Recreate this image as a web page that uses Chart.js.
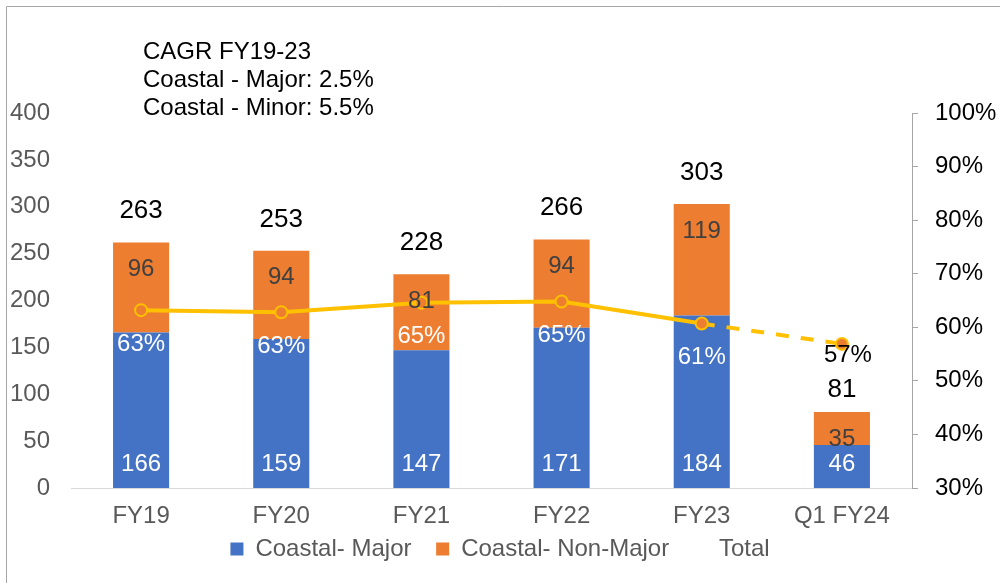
<!DOCTYPE html>
<html>
<head>
<meta charset="utf-8">
<script src="https://cdn.jsdelivr.net/npm/chart.js@4.4.1/dist/chart.umd.min.js"></script>
<style>
    html, body { margin: 0; padding: 0; background: #ffffff; }
    #wrap { position: relative; width: 1000px; height: 583px; }
</style>
</head>
<body>
<div id="wrap"><canvas id="cargoChart" width="1000" height="583"></canvas></div>
<script>
// Chart data
const categories = ['FY19', 'FY20', 'FY21', 'FY22', 'FY23', 'Q1 FY24'];
const majorValues = [166, 159, 147, 171, 184, 46];
const nonMajorValues = [96, 94, 81, 94, 119, 35];
const totalValues = [263, 253, 228, 266, 303, 81];
const majorShare = [63.2, 62.8, 64.6, 64.8, 60.7, 56.9];
const notes = ['CAGR FY19-23', 'Coastal - Major: 2.5%', 'Coastal - Minor: 5.5%'];

const FONT = 'Liberation Sans, Arial, sans-serif';
const BLUE = '#4472C4';
const ORANGE = '#ED7D31';
const GOLD = '#FFC000';

/**
 * Frame, the CAGR note and all the data labels
 */
const labelPlugin = {
    id: 'labelPlugin',
    beforeDraw(chart) {
        const ctx = chart.ctx;
        ctx.save();
        ctx.strokeStyle = '#a6a6a6';
        ctx.lineWidth = 1;
        ctx.beginPath();
        ctx.moveTo(6.5, chart.height);
        ctx.lineTo(6.5, 6.5);
        ctx.lineTo(chart.width, 6.5);
        ctx.stroke();
        ctx.restore();
    },
    afterDatasetsDraw(chart) {
        const ctx = chart.ctx;
        ctx.save();
        ctx.textAlign = 'center';
        ctx.textBaseline = 'middle';

        // Major values near the bar base
        ctx.font = '24px ' + FONT;
        ctx.fillStyle = '#ffffff';
        chart.getDatasetMeta(0).data.forEach((bar, i) => {
            ctx.fillText(String(majorValues[i]), bar.x, bar.base - 24);
        });

        // Non-major values near the bar top
        ctx.fillStyle = '#404040';
        chart.getDatasetMeta(1).data.forEach((bar, i) => {
            ctx.fillText(String(nonMajorValues[i]), bar.x, bar.y + 27);
        });

        // Totals above the stacks
        ctx.font = '26px ' + FONT;
        ctx.fillStyle = '#000000';
        const totalLift = [31, 31, 31, 31, 31, 22];
        chart.getDatasetMeta(2).data.forEach((pt, i) => {
            ctx.fillText(String(totalValues[i]), pt.x, pt.y - totalLift[i]);
        });

        // Share labels under the line points
        ctx.font = '24px ' + FONT;
        chart.getDatasetMeta(3).data.forEach((pt, i) => {
            const last = i === majorShare.length - 1;
            ctx.fillStyle = last ? '#000000' : '#ffffff';
            ctx.fillText(Math.round(majorShare[i]) + '%', pt.x + (last ? 6 : 0), pt.y + (last ? 11 : 34));
        });

        // CAGR note
        ctx.textAlign = 'left';
        ctx.textBaseline = 'alphabetic';
        ctx.fillStyle = '#000000';
        notes.forEach((line, i) => {
            ctx.fillText(line, 143, 59 + i * 28);
        });
        ctx.restore();
    }
};

const ctx = document.getElementById('cargoChart').getContext('2d');

new Chart(ctx, {
    type: 'bar',
    data: {
        labels: categories,
        datasets: [
            {
                label: 'Coastal- Major',
                data: majorValues,
                backgroundColor: BLUE,
                borderWidth: 0,
                yAxisID: 'y',
                order: 3,
                categoryPercentage: 1,
                barPercentage: 0.4
            },
            {
                label: 'Coastal- Non-Major',
                data: nonMajorValues,
                backgroundColor: ORANGE,
                borderWidth: 0,
                yAxisID: 'y',
                order: 3,
                categoryPercentage: 1,
                barPercentage: 0.4
            },
            {
                type: 'line',
                label: 'Total',
                data: totalValues,
                showLine: false,
                pointRadius: 0,
                borderColor: 'rgba(0,0,0,0)',
                backgroundColor: 'rgba(0,0,0,0)',
                borderWidth: 0,
                yAxisID: 'y',
                order: 3
            },
            {
                type: 'line',
                label: 'Share',
                data: majorShare,
                yAxisID: 'y1',
                borderColor: GOLD,
                borderWidth: 4,
                backgroundColor: ORANGE,
                pointBackgroundColor: ORANGE,
                pointBorderColor: GOLD,
                pointBorderWidth: 2,
                pointRadius: 6,
                tension: 0,
                order: 1,
                segment: {
                    borderDash: (c) => c.p1DataIndex === majorShare.length - 1 ? [13, 12] : undefined
                }
            }
        ]
    },
    options: {
        responsive: false,
        animation: false,
        layout: {
            padding: { top: 113, bottom: 12, left: 0, right: 0 }
        },
        scales: {
            x: {
                stacked: true,
                grid: { display: false, drawTicks: false },
                border: { display: true, color: '#d9d9d9', width: 1 },
                ticks: {
                    color: '#595959',
                    font: { family: FONT, size: 24 },
                    padding: 14,
                    maxRotation: 0
                },
                afterFit: (scale) => { scale.height = 43; }
            },
            y: {
                stacked: true,
                position: 'left',
                min: 0,
                max: 400,
                grid: { display: false, drawTicks: false },
                border: { display: false },
                ticks: {
                    stepSize: 50,
                    color: '#595959',
                    font: { family: FONT, size: 24 },
                    padding: 21
                },
                afterFit: (scale) => { scale.width = 71; }
            },
            y1: {
                position: 'right',
                min: 30,
                max: 100,
                grid: {
                    display: true,
                    drawOnChartArea: false,
                    drawTicks: true,
                    tickLength: 6,
                    color: '#a6a6a6'
                },
                border: { display: true, color: '#a6a6a6', width: 1 },
                ticks: {
                    stepSize: 10,
                    color: '#000000',
                    font: { family: FONT, size: 24 },
                    padding: 17,
                    callback: (v) => v + '%'
                },
                afterFit: (scale) => { scale.width = 88; }
            }
        },
        plugins: {
            legend: {
                position: 'bottom',
                labels: {
                    boxWidth: 13,
                    boxHeight: 13,
                    padding: 6,
                    color: '#595959',
                    font: { family: FONT, size: 24 },
                    filter: (item) => item.datasetIndex !== 3,
                    generateLabels: (chart) => {
                        const items = Chart.defaults.plugins.legend.labels.generateLabels(chart);
                        // a little extra room after each entry except the last
                        items.forEach((item) => {
                            if (item.datasetIndex < 2) item.text = item.text + '\u2002 ';
                        });
                        return items;
                    }
                }
            },
            tooltip: { enabled: false }
        }
    },
    plugins: [labelPlugin]
});
</script>
</body>
</html>
